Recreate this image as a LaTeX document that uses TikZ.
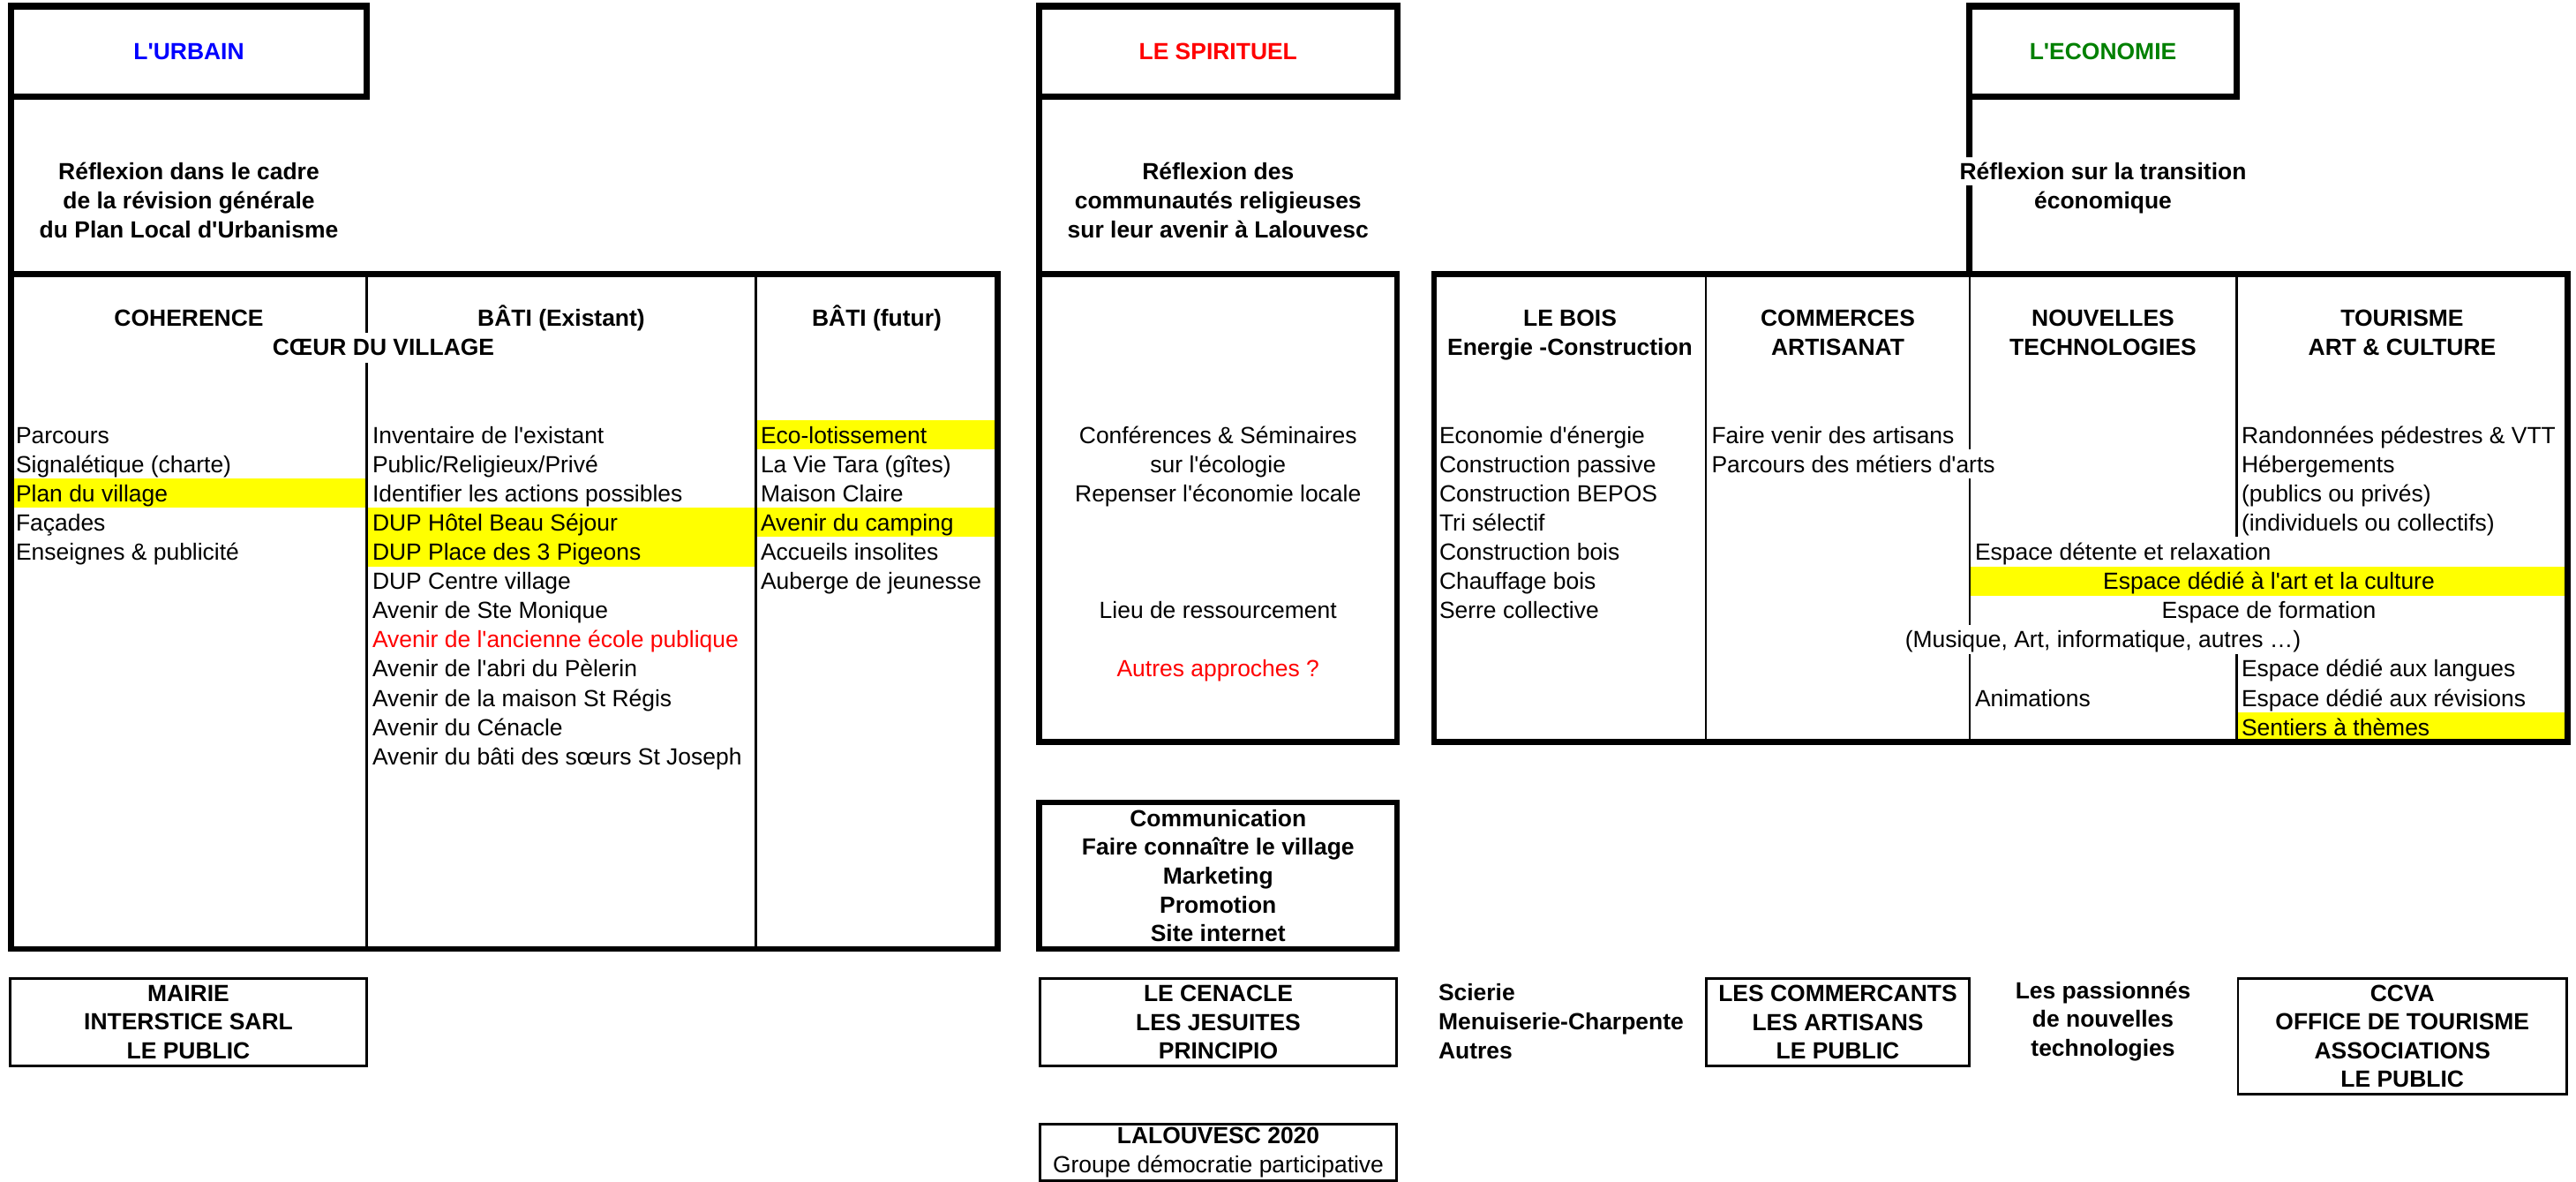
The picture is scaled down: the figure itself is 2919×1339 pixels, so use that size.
\documentclass[tikz,border=0pt]{standalone}
\usepackage{fontspec}
\setmainfont{Liberation Sans}[Ligatures=TeXOff]
\definecolor{xlyellow}{RGB}{255,255,0}
\definecolor{xlgreen}{RGB}{0,128,0}
\definecolor{xlblue}{RGB}{0,0,255}
\definecolor{xlred}{RGB}{255,0,0}
\begin{document}
\begin{tikzpicture}[x=0.378pt, y=-0.378pt,
  every node/.style={inner sep=0pt, outer sep=0pt},
  cell/.style={font=\fontsize{10}{12}\selectfont, text height=7.3pt, text depth=0pt, inner sep=0pt},
  lcell/.style={cell, anchor=west},
  bcell/.style={cell, font=\bfseries\fontsize{10}{12}\selectfont},
  hdrbox/.style 2 args={draw, line width=2.65pt, minimum width=#1*0.378pt, minimum height=#2*0.378pt, font=\bfseries\fontsize{10}{12}\selectfont},
  tabbox/.style 2 args={draw, line width=2.4pt, minimum width=#1*0.378pt, minimum height=#2*0.378pt},
  pbox/.style 2 args={draw, line width=1pt, minimum width=#1*0.378pt, minimum height=#2*0.378pt, align=center, font=\bfseries\fontsize{10}{12.3}\selectfont},
  conn/.style={line width=2.65pt},
  divider/.style={line width=1pt},
  hilite/.style={fill=xlyellow, draw=none}
]
\useasboundingbox (0,0) rectangle (2919,1339);

% ---------- yellow highlights ----------
\fill[hilite] (16,542.2) rectangle (414.5,575.3);
\fill[hilite] (416.5,575.3) rectangle (855.5,641.5);
\fill[hilite] (857.5,476) rectangle (1127.5,509.1);
\fill[hilite] (857.5,575.3) rectangle (1127.5,608.4);
\fill[hilite] (2233,641.5) rectangle (2906.5,674.6);
\fill[hilite] (2535.5,807) rectangle (2906.5,840.1);

% ---------- header boxes ----------
\node[hdrbox={403}{102.5}, text=xlblue] (urb) at (214,58.25) {L'URBAIN};
\node[hdrbox={405.5}{102.5}, text=xlred] (spi) at (1380.25,58.25) {LE SPIRITUEL};
\node[hdrbox={303}{102.5}, text=xlgreen] (eco) at (2383,58.25) {L'ECONOMIE};

% ---------- tables ----------
\node[tabbox={1118}{764.5}] (ut) at (571.5,692.75) {};
\node[tabbox={405.5}{530}] (st) at (1380.25,575.5) {};
\node[tabbox={1284.5}{530}] (et) at (2267.25,575.5) {};

% ---------- connectors from headers to tables ----------
\coordinate (egapA) at (2231.5,178);
\coordinate (egapB) at (2231.5,210);
\draw[conn] (urb.south west) -- (urb.south west |- ut.north);
\draw[conn] (spi.south west) -- (spi.south west |- st.north);
\draw[conn] (eco.south west) -- (egapA);
\draw[conn] (egapB) -- (eco.south west |- et.north);

% ---------- dividers ----------
\draw[divider] (415.5,310.5) -- (415.5,376.5);
\draw[divider] (415.5,411) -- (415.5,1075);
\draw[divider] (856.5,310.5) -- (856.5,1075);
\draw[divider] (1933,310.5) -- (1933,840.5);
\draw[divider] (2232,310.5) -- (2232,509.1);
\draw[divider] (2232,542.2) -- (2232,707.7);
\draw[divider] (2232,740.8) -- (2232,840.5);
\draw[divider] (2534.5,310.5) -- (2534.5,608.4);
\draw[divider] (2534.5,740.8) -- (2534.5,840.5);

% ---------- reflexion texts ----------
\node[bcell] (ur1) at (214,194) {Réflexion dans le cadre};
\node[bcell] (ur2) at (214,227) {de la révision générale};
\node[bcell] (ur3) at (214,260) {du Plan Local d'Urbanisme};
\node[bcell] (sr1) at (1380.25,194) {Réflexion des};
\node[bcell] (sr2) at (1380.25,227) {communautés religieuses};
\node[bcell] (sr3) at (1380.25,260) {sur leur avenir à Lalouvesc};
\node[bcell] (er1) at (2383,194) {Réflexion sur la transition};
\node[bcell] (er2) at (2383,227) {économique};

% ---------- URBAIN table ----------
\node[bcell] (uh1) at (214,360) {COHERENCE};
\node[bcell] (uh2) at (636,360) {BÂTI (Existant)};
\node[bcell] (uh3) at (993.5,360) {BÂTI (futur)};
\node[bcell] (uh4) at (434.5,393) {CŒUR DU VILLAGE};

\node[lcell] (ua0) at (18,492.5) {Parcours};
\node[lcell] (ua1) at (18,525.6) {Signalétique (charte)};
\node[lcell] (ua2) at (18,558.7) {Plan du village};
\node[lcell] (ua3) at (18,591.8) {Façades};
\node[lcell] (ua4) at (18,624.9) {Enseignes \& publicité};

\node[lcell] (ub0) at (422,492.5) {Inventaire de l'existant};
\node[lcell] (ub1) at (422,525.6) {Public/Religieux/Privé};
\node[lcell] (ub2) at (422,558.7) {Identifier les actions possibles};
\node[lcell] (ub3) at (422,591.8) {DUP Hôtel Beau Séjour};
\node[lcell] (ub4) at (422,624.9) {DUP Place des 3 Pigeons};
\node[lcell] (ub5) at (422,658.0) {DUP Centre village};
\node[lcell] (ub6) at (422,691.1) {Avenir de Ste Monique};
\node[lcell, text=xlred] (ub7) at (422,724.2) {Avenir de l'ancienne école publique};
\node[lcell] (ub8) at (422,757.3) {Avenir de l'abri du Pèlerin};
\node[lcell] (ub9) at (422,790.4) {Avenir de la maison St Régis};
\node[lcell] (ub10) at (422,823.5) {Avenir du Cénacle};
\node[lcell] (ub11) at (422,857.0) {Avenir du bâti des sœurs St Joseph};

\node[lcell] (uc0) at (862,492.5) {Eco-lotissement};
\node[lcell] (uc1) at (862,525.6) {La Vie Tara (gîtes)};
\node[lcell] (uc2) at (862,558.7) {Maison Claire};
\node[lcell] (uc3) at (862,591.8) {Avenir du camping};
\node[lcell] (uc4) at (862,624.9) {Accueils insolites};
\node[lcell] (uc5) at (862,658.0) {Auberge de jeunesse};

% ---------- SPIRITUEL table ----------
\node[cell] (s0) at (1380.25,492.5) {Conférences \& Séminaires};
\node[cell] (s1) at (1380.25,525.6) {sur l'écologie};
\node[cell] (s2) at (1380.25,558.7) {Repenser l'économie locale};
\node[cell] (s6) at (1380.25,691.1) {Lieu de ressourcement};
\node[cell, text=xlred] (s8) at (1380.25,757.3) {Autres approches ?};

% ---------- ECONOMIE table ----------
\node[bcell] (eh1a) at (1779,360) {LE BOIS};
\node[bcell] (eh1b) at (1779,393) {Energie -Construction};
\node[bcell] (eh2a) at (2082.5,360) {COMMERCES};
\node[bcell] (eh2b) at (2082.5,393) {ARTISANAT};
\node[bcell] (eh3a) at (2383,360) {NOUVELLES};
\node[bcell] (eh3b) at (2383,393) {TECHNOLOGIES};
\node[bcell] (eh4a) at (2722,360) {TOURISME};
\node[bcell] (eh4b) at (2722,393) {ART \& CULTURE};

\node[lcell] (ea0) at (1631,492.5) {Economie d'énergie};
\node[lcell] (ea1) at (1631,525.6) {Construction passive};
\node[lcell] (ea2) at (1631,558.7) {Construction BEPOS};
\node[lcell] (ea3) at (1631,591.8) {Tri sélectif};
\node[lcell] (ea4) at (1631,624.9) {Construction bois};
\node[lcell] (ea5) at (1631,658.0) {Chauffage bois};
\node[lcell] (ea6) at (1631,691.1) {Serre collective};

\node[lcell] (eb0) at (1939.5,492.5) {Faire venir des artisans};
\node[lcell] (eb1) at (1939.5,525.6) {Parcours des métiers d'arts};

\node[lcell] (ec4) at (2238,624.9) {Espace détente et relaxation};
\node[cell] (ec5) at (2571,658.0) {Espace dédié à l'art et la culture};
\node[cell] (ec6) at (2571,691.1) {Espace de formation};
\node[cell] (ec7) at (2383,724.2) {(Musique, Art, informatique, autres …)};
\node[lcell] (ec9) at (2238,790.4) {Animations};

\node[lcell] (ed0) at (2540,492.5) {Randonnées pédestres \& VTT};
\node[lcell] (ed1) at (2540,525.6) {Hébergements};
\node[lcell] (ed2) at (2540,558.7) {(publics ou privés)};
\node[lcell] (ed3) at (2540,591.8) {(individuels ou collectifs)};
\node[lcell] (ed8) at (2540,757.3) {Espace dédié aux langues};
\node[lcell] (ed9) at (2540,790.4) {Espace dédié aux révisions};
\node[lcell] (ed10) at (2540,823.5) {Sentiers à thèmes};

% ---------- bottom boxes ----------
\node[pbox={404}{99}] (mairie) at (213.5,1158) {MAIRIE\\INTERSTICE SARL\\LE PUBLIC};
\node[pbox={405.5}{166}, line width=2.4pt] (comm) at (1380.25,992) {Communication\\Faire connaître le village\\Marketing\\Promotion\\Site internet};
\node[pbox={404}{99}] (cenacle) at (1380.5,1158) {LE CENACLE\\LES JESUITES\\PRINCIPIO};
\node[align=left, anchor=west, font=\bfseries\fontsize{10}{12.3}\selectfont] (scierie) at (1630,1157) {Scierie\\Menuiserie-Charpente\\Autres};
\node[pbox={298}{99}] (commercants) at (2082.5,1158) {LES COMMERCANTS\\LES ARTISANS\\LE PUBLIC};
\node[align=center, font=\bfseries\fontsize{10}{12.3}\selectfont] (passionnes) at (2383,1157) {Les passionnés\\de nouvelles\\technologies};
\node[pbox={372.5}{131}] (ccva) at (2722.25,1174) {CCVA\\OFFICE DE TOURISME\\ASSOCIATIONS\\LE PUBLIC};
\node[pbox={404}{64}, font=\bfseries\fontsize{10}{12.7}\selectfont] (lalouvesc) at (1380.5,1305.5) {LALOUVESC 2020\\{\mdseries Groupe démocratie participative}};
\end{tikzpicture}
\end{document}
